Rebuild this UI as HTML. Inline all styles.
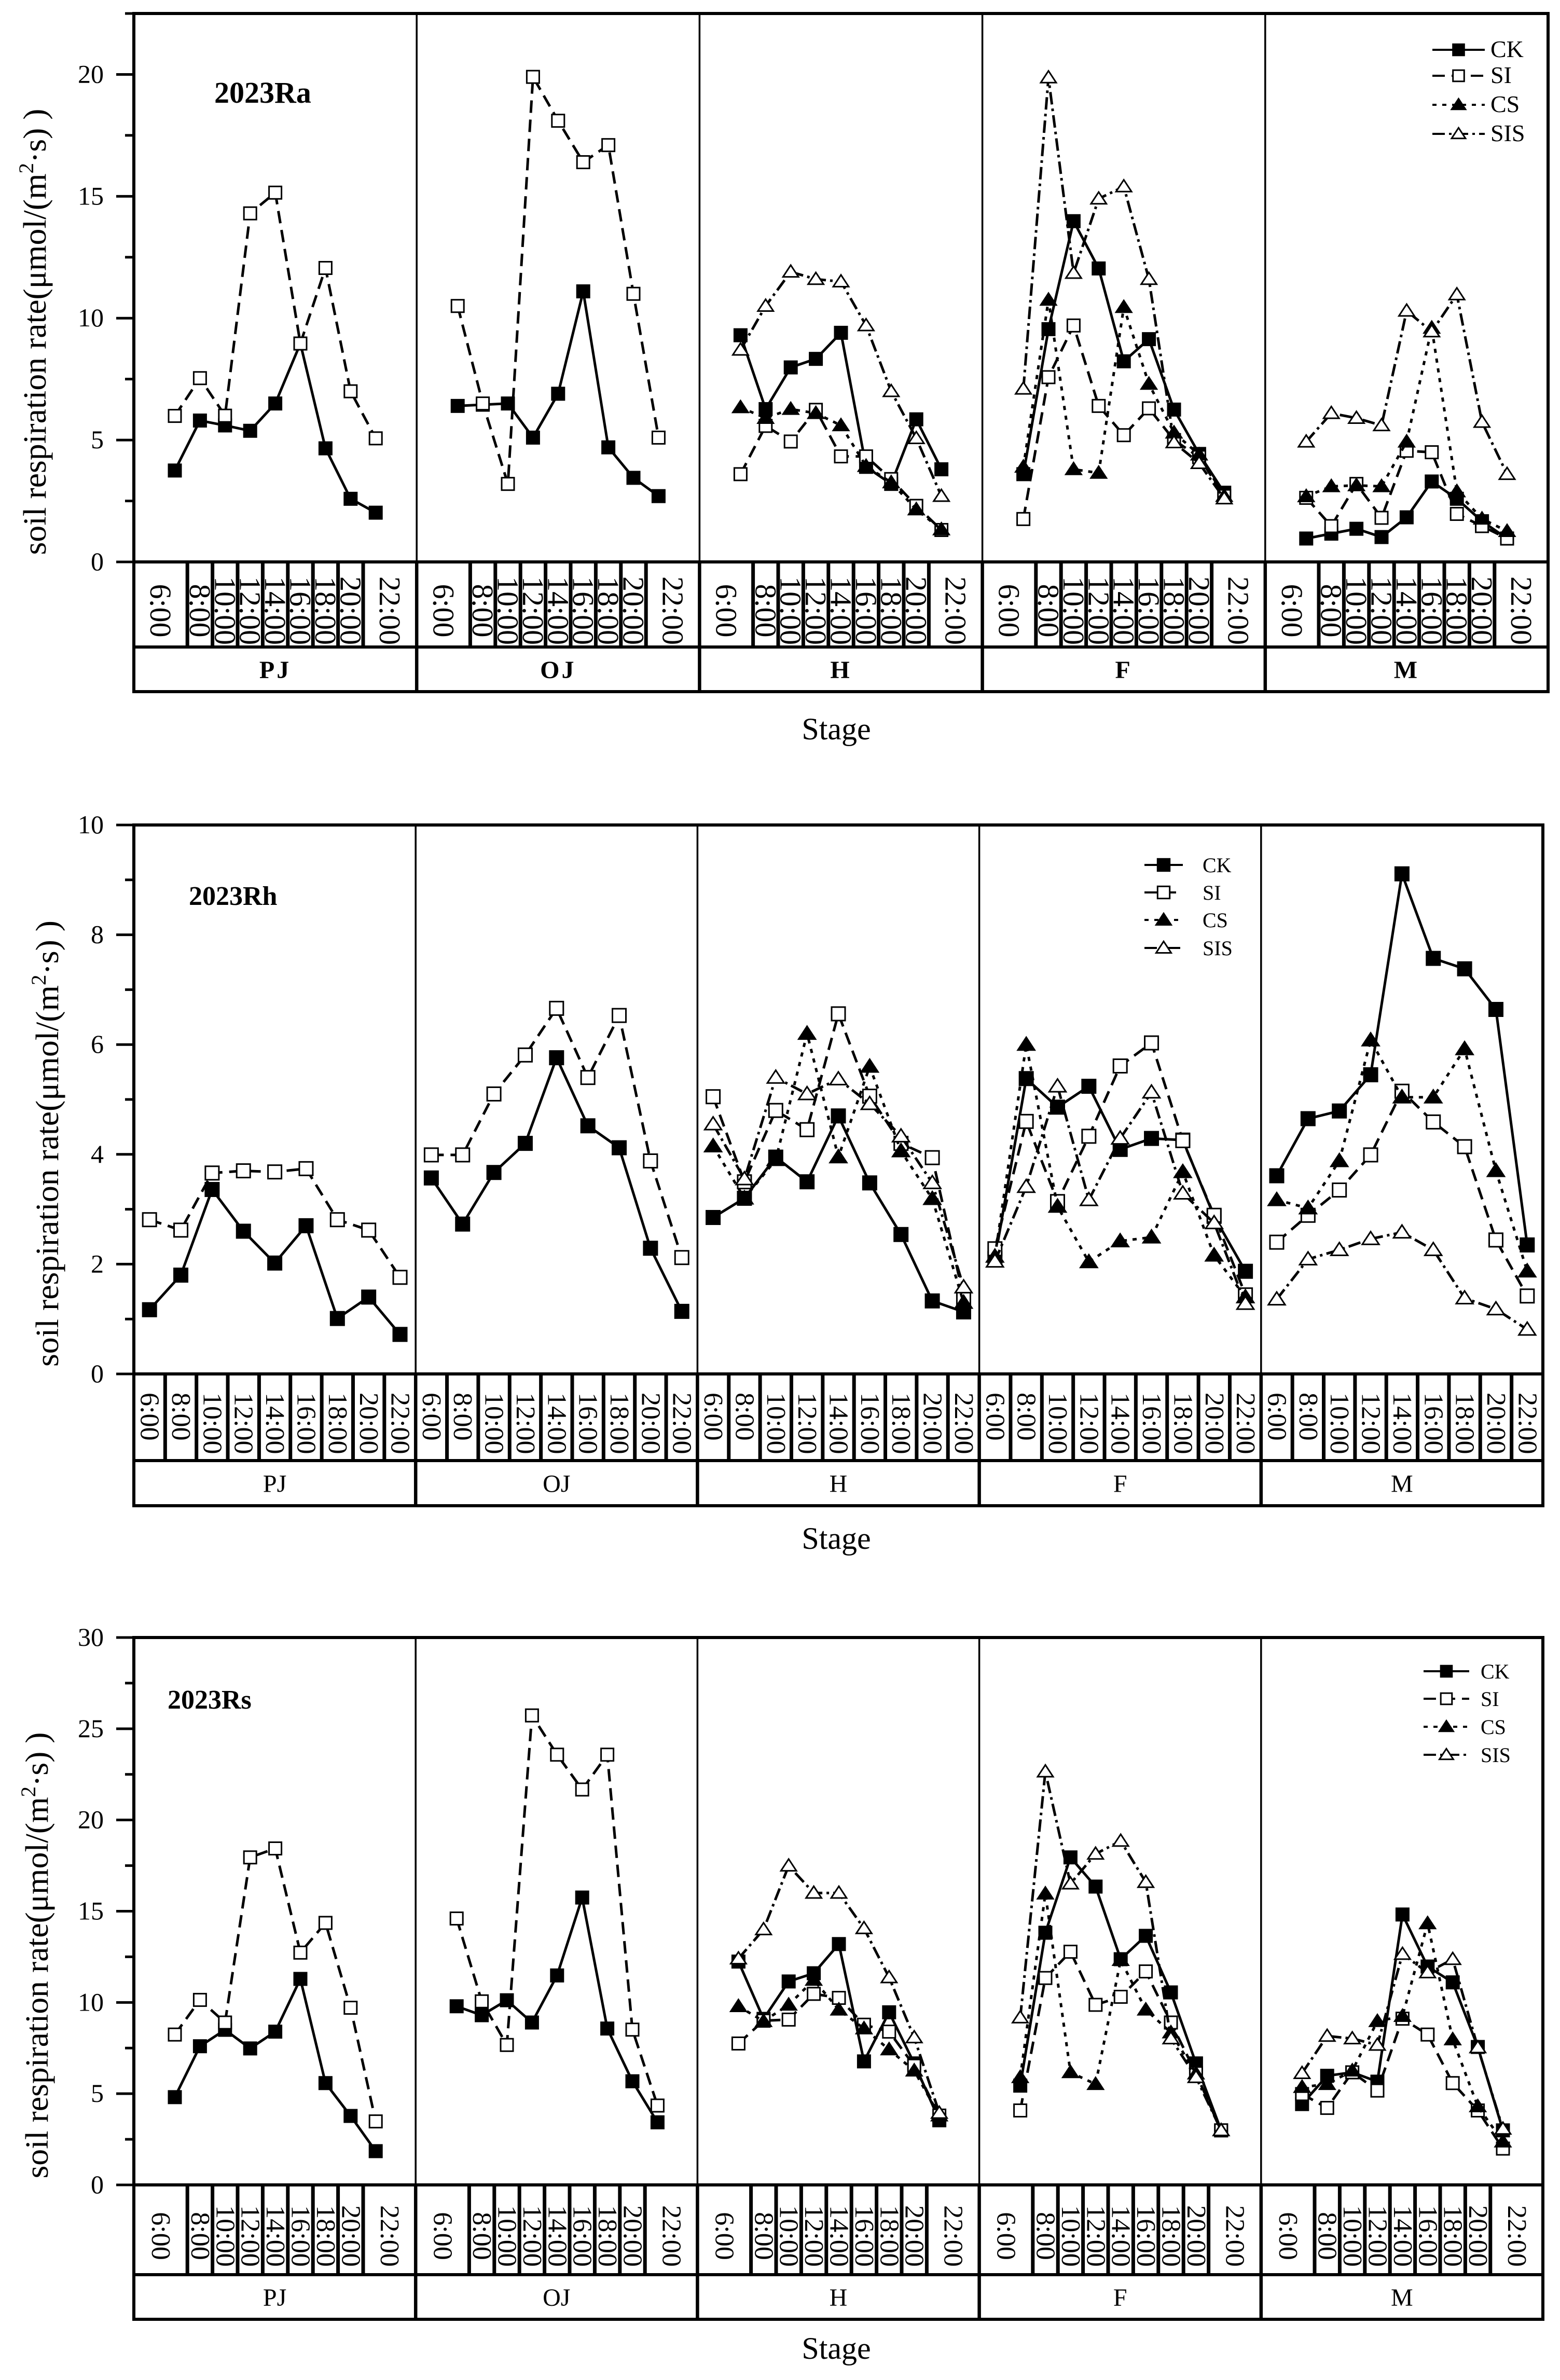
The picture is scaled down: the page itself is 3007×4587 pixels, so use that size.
<!DOCTYPE html>
<html><head><meta charset="utf-8"><style>
html,body{margin:0;padding:0;background:#fff;}
svg{display:block;font-family:"Liberation Serif",serif;}
svg text{font-family:"Liberation Serif",serif;}
</style></head><body>
<svg id="fig" width="3007" height="4587" viewBox="0 0 3007 4587" xmlns="http://www.w3.org/2000/svg"></svg>
<script>
const stages = ["PJ","OJ","H","F","M"];
const times = ["6:00","8:00","10:00","12:00","14:00","16:00","18:00","20:00","22:00"];
const seriesNames = ["CK","SI","CS","SIS"];
// 2023Ra
const raTicks = [0,5,10,15,20];
const raCK = [3.75,5.8,5.6,5.38,6.5,8.96,4.66,2.59,2.02, 6.4,6.45,6.5,5.1,6.9,11.1,4.7,3.45,2.7, 9.3,6.27,7.98,8.33,9.4,3.9,3.2,5.85,3.8, 3.6,9.55,13.98,12.04,8.23,9.14,6.25,4.43,2.84, 0.96,1.16,1.36,1.02,1.83,3.3,2.59,1.67,0.96];
const raSI = [5.99,7.54,6.0,14.3,15.15,8.96,12.06,7.0,5.07, 10.5,6.5,3.2,19.9,18.1,16.4,17.1,11.0,5.1, 3.6,5.58,4.94,6.24,4.33,4.33,3.4,2.3,1.31, 1.76,7.58,9.7,6.4,5.2,6.3,5.0,4.3,2.7, 2.63,1.47,3.2,1.81,4.56,4.5,1.97,1.47,0.96];
const raCS = [null,null,null,null,null,null,null,null,null, null,null,null,null,null,null,null,null,null, 6.34,5.9,6.27,6.1,5.6,3.93,3.26,2.15,1.33, 3.9,10.75,3.8,3.65,10.45,7.3,5.3,4.4,2.7, 2.69,3.1,3.14,3.1,4.93,9.6,2.89,1.77,1.26];
const raSIS = [null,null,null,null,null,null,null,null,null, null,null,null,null,null,null,null,null,null, 8.7,10.5,11.9,11.6,11.5,9.7,7.0,5.07,2.7, 7.1,19.87,11.85,14.9,15.4,11.6,4.9,4.05,2.6, 4.93,6.1,5.9,5.6,10.3,9.45,10.97,5.74,3.6];
// 2023Rh
const rhTicks = [0,2,4,6,8,10];
const rhCK = [1.17,1.8,3.36,2.6,2.02,2.7,1.01,1.4,0.72, 3.57,2.73,3.67,4.2,5.76,4.52,4.12,2.29,1.14, 2.85,3.2,3.95,3.5,4.7,3.48,2.54,1.33,1.13, 2.1,5.38,4.86,5.24,4.09,4.29,4.26,2.87,1.87, 3.61,4.65,4.79,5.45,9.11,7.57,7.38,6.64,2.35];
const rhSI = [2.81,2.62,3.66,3.7,3.68,3.74,2.81,2.62,1.76, 3.99,3.99,5.1,5.81,6.66,5.4,6.53,3.88,2.12, 5.05,3.5,4.8,4.45,6.56,5.06,4.2,3.94,1.4, 2.28,4.6,3.14,4.33,5.61,6.03,4.25,2.89,1.44, 2.4,2.89,3.35,3.99,5.15,4.59,4.14,2.44,1.42];
const rhCS = [null,null,null,null,null,null,null,null,null, null,null,null,null,null,null,null,null,null, 4.15,3.2,3.9,6.2,3.95,5.6,4.06,3.19,1.3, 2.14,6.0,3.05,2.04,2.42,2.49,3.68,2.16,1.4, 3.17,3.02,3.88,6.08,5.04,5.04,5.92,3.7,1.87];
const rhSIS = [null,null,null,null,null,null,null,null,null, null,null,null,null,null,null,null,null,null, 4.55,3.55,5.4,5.1,5.37,4.92,4.33,3.48,1.58, 2.05,3.41,5.24,3.17,4.29,5.13,3.29,2.75,1.28, 1.36,2.09,2.26,2.46,2.58,2.26,1.38,1.18,0.81];
// 2023Rs
const rsTicks = [0,5,10,15,20,25,30];
const rsCK = [4.81,7.6,8.5,7.48,8.4,11.29,5.58,3.78,1.85, 9.79,9.3,10.12,8.9,11.48,15.75,8.57,5.68,3.43, 12.24,9.1,11.15,11.6,13.2,6.77,9.46,6.66,3.54, 5.44,13.82,17.95,16.35,12.37,13.65,10.55,6.66,2.99, 4.43,5.98,6.17,5.66,14.82,11.97,11.1,7.56,2.99];
const rsSI = [8.24,10.14,8.9,17.95,18.44,12.73,14.36,9.71,3.48, 14.6,10.06,7.67,25.73,23.58,21.67,23.58,8.51,4.35, 7.75,9.0,9.06,10.47,10.25,8.78,8.4,6.53,3.8, 4.08,11.34,12.78,9.87,10.31,11.7,8.9,6.12,2.99, 4.98,4.22,6.17,5.17,9.11,8.24,5.58,4.08,1.99];
const rsCS = [null,null,null,null,null,null,null,null,null, null,null,null,null,null,null,null,null,null, 9.79,8.97,9.87,11.23,9.6,8.57,7.42,6.26,3.8, 5.9,15.96,6.17,5.52,12.32,9.6,8.35,6.1,2.99, 5.36,5.52,6.26,8.97,9.25,14.33,7.97,4.3,2.37];
const rsSIS = [null,null,null,null,null,null,null,null,null, null,null,null,null,null,null,null,null,null, 12.4,14.0,17.49,16.0,16.0,14.06,11.37,8.08,3.94, 9.17,22.65,16.51,18.14,18.85,16.59,8.02,5.9,2.99, 6.12,8.16,8.02,7.67,12.65,11.64,12.37,7.53,3.07];

const NS="http://www.w3.org/2000/svg";
const svg=document.getElementById('fig');
const FF='"Liberation Serif", serif';
function mk(tag,attrs,parent){const e=document.createElementNS(NS,tag);for(const k in attrs)e.setAttribute(k,attrs[k]);if(tag==='text')e.setAttribute('font-family',FF);(parent||svg).appendChild(e);return e;}
const dashes={CK:"",SI:"24,13",CS:"8,11",SIS:"24,8,5,8"};

function marker(g,name,x,y,s){
  let m;
  if(name==="CK"||name==="SI"){
    m=mk('rect',{x:x-s/2,y:y-s/2,width:s,height:s,fill:name==="CK"?"#000":"#fff",stroke:"#000","stroke-width":3},g);
  } else {
    const h=s*0.9;
    m=mk('polygon',{points:`${x},${y-h*0.6} ${x-s*0.62},${y+h*0.45} ${x+s*0.62},${y+h*0.45}`,fill:name==="CS"?"#000":"#fff",stroke:"#000","stroke-width":3},g);
  }
  
  
}

function panel(c){
  const g=mk('g',{});
  
  
  const L=c.left,R=c.right,pw=(R-L)/5;
  const yS=v=>c.zero-(v/c.ymax)*(c.zero-c.top);
  const xS=(s,i)=> c.uniform ? L+s*pw+pw/18+(pw/9)*i : L+s*pw+79+48.4*i;
  mk('rect',{x:L,y:c.top,width:R-L,height:c.stageBottom-c.top,fill:"none",stroke:"#000","stroke-width":6},g);
  mk('line',{x1:L,y1:c.zero,x2:R,y2:c.zero,stroke:"#000","stroke-width":6},g);
  mk('line',{x1:L,y1:c.timeBottom,x2:R,y2:c.timeBottom,stroke:"#000","stroke-width":6},g);
  for(let s=1;s<5;s++){
    const x=L+s*pw;
    mk('line',{x1:x,y1:c.top,x2:x,y2:c.zero,stroke:"#000","stroke-width":3.5},g);
    mk('line',{x1:x,y1:c.zero,x2:x,y2:c.stageBottom,stroke:"#000","stroke-width":6.5},g);
  }
  const step=c.ticks[1]-c.ticks[0];
  for(let v=0;v<=c.ymax+1e-6;v+=step/2){
    const major=Math.abs(v/step-Math.round(v/step))<1e-6;
    mk('line',{x1:L-(major?34:17),y1:yS(v),x2:L,y2:yS(v),stroke:"#000","stroke-width":5},g);
  }
  c.ticks.forEach(t=>{
    const tx=mk('text',{x:L-58,y:yS(t)+16,"text-anchor":"end","font-size":c.tickFs},g);
    tx.textContent=t;
    
    
  });
  const yt=mk('text',{x:0,y:0,transform:`translate(${c.ytx},${(c.top+c.zero)/2+85}) rotate(-90)`,"text-anchor":"middle","font-size":62,textLength:860,lengthAdjust:"spacingAndGlyphs"},g);
  yt.innerHTML='soil respiration rate(μmol/(m<tspan dy="-24" font-size="40">2</tspan><tspan dy="24">·s) )</tspan>';
  
  
  stages.forEach((st,s)=>{
    for(let i=0;i<9;i++){
      if(i<8){
        const sx = c.uniform ? L+s*pw+(pw/9)*(i+1) : xS(s,i)+24.2;
        mk('line',{x1:sx,y1:c.zero,x2:sx,y2:c.timeBottom,stroke:"#000","stroke-width":7},g);
      }
      let cx;
      if(c.uniform) cx=xS(s,i);
      else { const a= i===0? L+s*pw : xS(s,i)-24.2; const b= i===8? L+(s+1)*pw : xS(s,i)+24.2; cx=(a+b)/2; }
      const ty = c.uniform ? c.zero+36 : (c.zero+c.timeBottom)/2+12;
      const tl=mk('text',{x:0,y:0,transform:`translate(${cx},${ty}) rotate(90)`,"text-anchor":c.uniform?"start":"middle","dominant-baseline":"central","font-size":c.timeFs},g);
      tl.textContent=times[i];
      
      
    }
    const sl=mk('text',{x:L+s*pw+pw/2,y:(c.timeBottom+c.stageBottom)/2+17,"text-anchor":"middle","font-size":48,"font-weight":c.bold?"bold":"normal","letter-spacing":c.bold?4:0},g);
    sl.textContent=st;
    
    
  });
  const stT=mk('text',{x:1612,y:c.stageY,"text-anchor":"middle","font-size":60},g);
  stT.textContent="Stage";
  
  
  const title=mk('text',{x:c.titleX,y:c.titleY,"font-size":c.titleFs,"font-weight":"bold"},g);
  title.textContent=c.title;
  
  
  c.data.forEach((arr,k)=>{
    const name=seriesNames[k];
    const sg=mk('g',{},g);
    
    
    for(let s=0;s<5;s++){
      const pts=[];
      for(let i=0;i<9;i++){const v=arr[s*9+i]; if(v!==null) pts.push([xS(s,i),yS(v)]);}
      if(pts.length){
        const ln=mk('polyline',{points:pts.map(p=>p.join(',')).join(' '),fill:"none",stroke:"#000","stroke-width":5,"stroke-dasharray":dashes[name]},sg);
        
        
      }
    }
    for(let s=0;s<5;s++)for(let i=0;i<9;i++){const v=arr[s*9+i]; if(v!==null) marker(sg,name,xS(s,i),yS(v),c.ms);}
  });
  const lg=mk('g',{},g);
  
  
  seriesNames.forEach((n,k)=>{
    const y=c.leg.y[k];
    const en=mk('g',{},lg);
    
    
    mk('line',{x1:c.leg.x1,y1:y,x2:c.leg.x2,y2:y,stroke:"#000","stroke-width":4,"stroke-dasharray":dashes[n]},en);
    marker(en,n,(c.leg.x1+c.leg.x2)/2,y,c.ms*0.9);
    const t=mk('text',{x:c.leg.tx,y:y+14,"font-size":c.leg.fs},en);
    t.textContent=n;
  });
}

panel({id:'ra',title:'2023Ra',left:258,right:2984,top:26,zero:1083,ymax:22.5,timeBottom:1247,stageBottom:1333,uniform:false,
  ticks:raTicks,data:[raCK,raSI,raCS,raSIS],tickFs:50,timeFs:58,bold:true,ytx:88,stageY:1425,titleX:413,titleY:198,titleFs:58,ms:24,
  leg:{x1:2761,x2:2862,tx:2873,y:[96,146,202,258],fs:46}});
panel({id:'rh',title:'2023Rh',left:258,right:2974,top:1590,zero:2648,ymax:10,timeBottom:2815,stageBottom:2902,uniform:true,
  ticks:rhTicks,data:[rhCK,rhSI,rhCS,rhSIS],tickFs:50,timeFs:52,bold:false,ytx:112,stageY:2985,titleX:364,titleY:1744,titleFs:52,ms:26,
  leg:{x1:2206,x2:2280,tx:2318,y:[1667,1720,1773,1827],fs:40}});
panel({id:'rs',title:'2023Rs',left:258,right:2974,top:3156,zero:4211,ymax:30,timeBottom:4384,stageBottom:4470,uniform:false,
  ticks:rsTicks,data:[rsCK,rsSI,rsCS,rsSIS],tickFs:50,timeFs:52,bold:false,ytx:92,stageY:4546,titleX:323,titleY:3293,titleFs:52,ms:24,
  leg:{x1:2744,x2:2832,tx:2854,y:[3221,3274,3328,3382],fs:40}});
</script>
</body></html>
